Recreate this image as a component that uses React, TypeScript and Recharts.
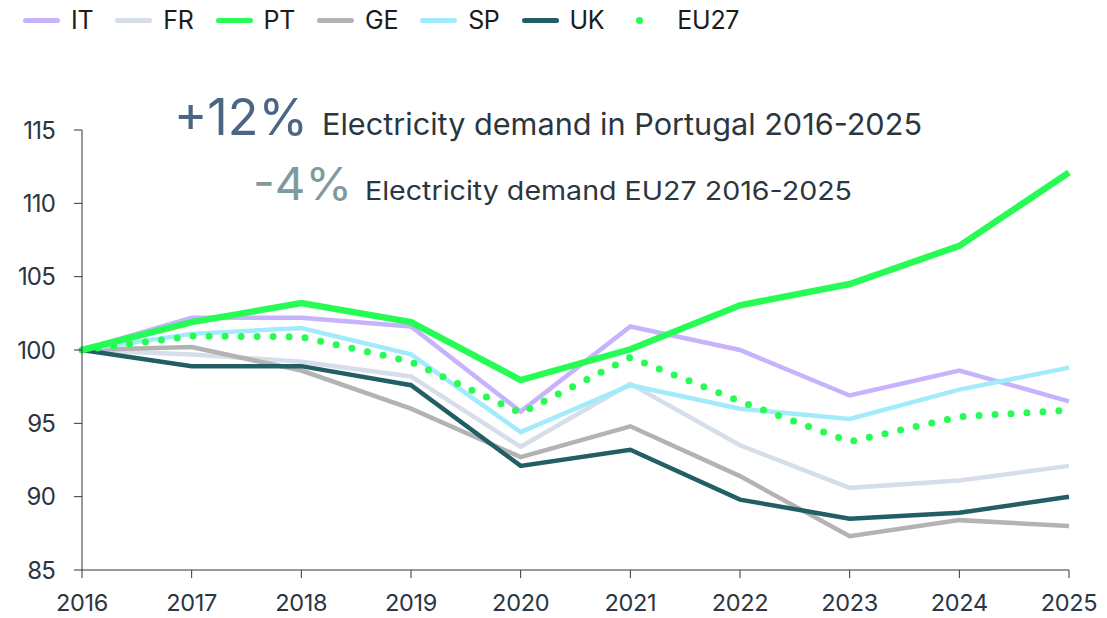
import React from 'react';
import { LineChart, Line, XAxis, YAxis } from 'recharts';

const years = ['2016', '2017', '2018', '2019', '2020', '2021', '2022', '2023', '2024', '2025'];
const it = [100, 102.2, 102.2, 101.6, 95.8, 101.6, 100.0, 96.9, 98.6, 96.5];
const fr = [100, 99.7, 99.2, 98.2, 93.4, 97.7, 93.5, 90.6, 91.1, 92.1];
const pt = [100, 101.9, 103.2, 101.9, 97.95, 100.05, 103.05, 104.5, 107.1, 112.1];
const ge = [100, 100.2, 98.6, 96.0, 92.7, 94.8, 91.4, 87.3, 88.4, 88.0];
const sp = [100, 101.1, 101.5, 99.7, 94.4, 97.6, 96.0, 95.3, 97.3, 98.8];
const uk = [100, 98.9, 98.9, 97.6, 92.1, 93.2, 89.8, 88.5, 88.9, 90.0];
const eu27 = [100, 100.95, 100.9, 99.2, 95.7, 99.5, 96.5, 93.75, 95.45, 95.9];
const yTicks = [85, 90, 95, 100, 105, 110, 115];

const series = [
  { key: 'IT', values: it, color: '#c6b3fb', width: 4.5 },
  { key: 'FR', values: fr, color: '#d6dee9', width: 4.5 },
  { key: 'PT', values: pt, color: '#27fc54', width: 6.5 },
  { key: 'GE', values: ge, color: '#b3b3b3', width: 4.5 },
  { key: 'SP', values: sp, color: '#a2ebfb', width: 4.5 },
  { key: 'UK', values: uk, color: '#215f64', width: 4.5 },
  { key: 'EU27', values: eu27, color: '#27fc54', width: 7, dotted: true },
];

const data = years.map((y, i) => {
  const row: Record<string, string | number> = { year: y };
  series.forEach((s) => (row[s.key] = s.values[i]));
  return row;
});

const font = 'Inter, "Noto Sans", sans-serif';
const axisColor = '#2b3642';

export default function App() {
  return (
    <div style={{ position: 'fixed', left: 0, top: 0, width: 1107, height: 618, background: '#fff', fontFamily: font }}>
      <LineChart width={1107} height={618} data={data} margin={{ top: 130, right: 38, left: 0, bottom: 0 }}>
        <XAxis
          dataKey="year"
          height={48}
          stroke={axisColor}
          tickSize={8}
          tickMargin={16}
          tick={{ fill: axisColor, fontSize: 23.5, fontFamily: font, letterSpacing: -0.3 }}
        />
        <YAxis
          domain={[85, 115]}
          ticks={yTicks}
          width={82}
          stroke={axisColor}
          tickSize={8}
          tickMargin={19}
          tick={{ fill: axisColor, fontSize: 24, fontFamily: font, letterSpacing: -0.8 }}
        />
        {series.filter((s) => !s.dotted && s.key !== 'PT').map((s) => (
          <Line key={s.key} dataKey={s.key} stroke={s.color} strokeWidth={s.width} dot={false} isAnimationActive={false} type="linear" />
        ))}
        <Line dataKey="EU27" stroke="#27fc54" strokeWidth={7} strokeDasharray="0 16" strokeLinecap="round" dot={false} isAnimationActive={false} type="linear" />
        <Line dataKey="PT" stroke="#27fc54" strokeWidth={6.5} dot={false} isAnimationActive={false} type="linear" />
      </LineChart>

      <div style={{ position: 'absolute', left: 23, top: 7, display: 'flex', alignItems: 'center', height: 26, fontSize: 25, letterSpacing: -0.3, color: '#1c1c1c' }}>
        {series.map((s) => (
          <div key={s.key} style={{ display: 'flex', alignItems: 'center', marginRight: s.key === 'UK' ? 17 : 22 }}>
            {s.dotted ? (
              <span style={{ width: 37, display: 'inline-flex', justifyContent: 'center' }}>
                <span style={{ width: 7, height: 7, borderRadius: 4, background: s.color }} />
              </span>
            ) : (
              <span style={{ width: 37, height: 5, borderRadius: 3, background: s.color }} />
            )}
            <span style={{ marginLeft: s.dotted ? 19 : 11 }}>{s.key}</span>
          </div>
        ))}
      </div>

      <svg width={1107} height={618} style={{ position: 'absolute', left: 0, top: 0, pointerEvents: 'none' }}>
        <text x={174} y={135} fontSize={51} fill="#4b6584" fontFamily={font} textLength={134} lengthAdjust="spacingAndGlyphs">+12%</text>
        <text x={322} y={135} fontSize={30} fill="#2b3640" fontFamily={font} textLength={600} lengthAdjust="spacingAndGlyphs">Electricity demand in Portugal 2016-2025</text>
        <text x={253} y={200} fontSize={45} fill="#7e9a9c" fontFamily={font} textLength={99} lengthAdjust="spacingAndGlyphs">-4%</text>
        <text x={365} y={200} fontSize={26} fill="#2b3640" fontFamily={font} textLength={487} lengthAdjust="spacingAndGlyphs">Electricity demand EU27 2016-2025</text>
      </svg>
    </div>
  );
}
